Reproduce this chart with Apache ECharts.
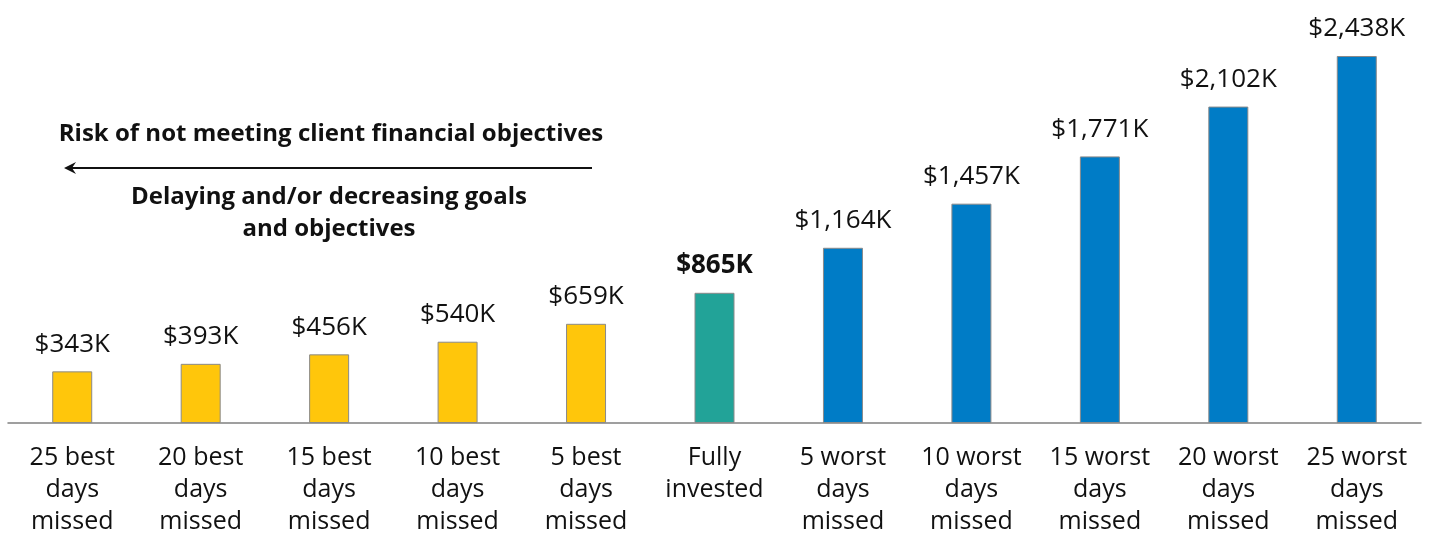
<!DOCTYPE html>
<html>
<head>
<meta charset="utf-8">
<script src="https://cdn.jsdelivr.net/npm/echarts@6/dist/echarts.min.js"></script>
<style>html,body{margin:0;padding:0;background:#fff}#c{width:1440px;height:549px}</style>
</head>
<body>
<div id="c"></div>
<script>
var categories = ["25 best\ndays\nmissed","20 best\ndays\nmissed","15 best\ndays\nmissed","10 best\ndays\nmissed","5 best\ndays\nmissed","Fully\ninvested","5 worst\ndays\nmissed","10 worst\ndays\nmissed","15 worst\ndays\nmissed","20 worst\ndays\nmissed","25 worst\ndays\nmissed"];
var values = [343, 393, 456, 540, 659, 865, 1164, 1457, 1771, 2102, 2438];
var barColors = ["#FFC60B","#FFC60B","#FFC60B","#FFC60B","#FFC60B","#22A398","#007CC6","#007CC6","#007CC6","#007CC6","#007CC6"];
var highlightIndex = 5;

var FONT = "'Open Sans', sans-serif";
var chart = echarts.init(document.getElementById('c'), null, {renderer:'canvas'});
var data = values.map(function(v,i){
  return {
    value: v,
    itemStyle: {color: barColors[i]},
    label: i === highlightIndex ? {fontWeight: 'bold'} : {}
  };
});
chart.setOption({
  animation: false,
  grid: {left: 8, right: 19, top: 1.5, bottom: 126, containLabel: false},
  xAxis: {
    type: 'category',
    data: categories,
    axisLine: {lineStyle: {color: '#808080', width: 1.5}},
    axisTick: {show: false},
    axisLabel: {color: '#111', fontSize: 25, lineHeight: 32, fontFamily: FONT, margin: 19, interval: 0}
  },
  yAxis: {type: 'value', min: 0, max: 2800, show: false, splitLine: {show: false}},
  series: [{
    type: 'bar',
    data: data,
    barWidth: 40,
    itemStyle: {borderColor: '#8a8a8a', borderWidth: 1},
    label: {
      show: true, position: 'top', distance: 14,
      color: '#111', fontSize: 26, fontFamily: FONT,
      formatter: function(p){ return '$' + p.value.toLocaleString('en-US') + 'K'; }
    }
  }],
  graphic: [
    {type: 'text', x: 331, y: 122, style: {text: 'Risk of not meeting client financial objectives', font: 'bold 24px ' + FONT, fill: '#111', align: 'center'}},
    {type: 'line', shape: {x1: 592, y1: 168, x2: 68, y2: 168}, style: {stroke: '#111', lineWidth: 2}},
    {type: 'polygon', shape: {points: [[64,168],[76,162],[72,168],[76,174]]}, style: {fill: '#111'}},
    {type: 'text', x: 329, y: 181, style: {text: 'Delaying and/or decreasing goals\nand objectives', font: 'bold 24px ' + FONT, fill: '#111', align: 'center', lineHeight: 32}}
  ]
});
</script>
</body>
</html>
